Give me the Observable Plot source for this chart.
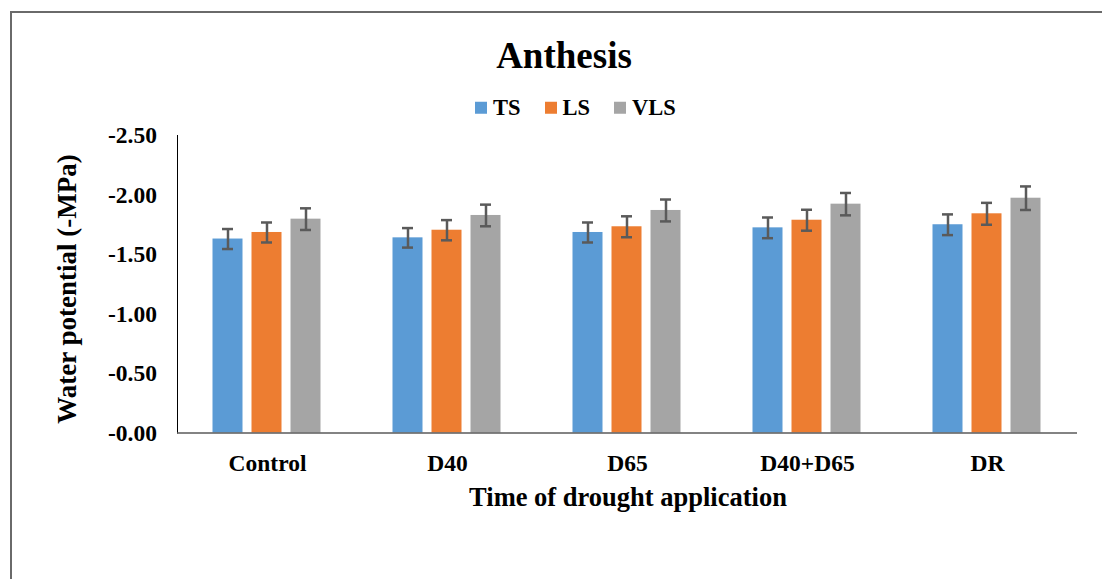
<!DOCTYPE html>
<html>
<head>
<meta charset="utf-8">
<script src="https://cdn.jsdelivr.net/npm/d3@7"></script>
<script src="https://cdn.jsdelivr.net/npm/@observablehq/plot@0.6"></script>
<style>
  html, body { margin: 0; padding: 0; background: #fff; overflow: hidden; }
  #wrap { position: relative; width: 1102px; height: 579px; overflow: hidden; font-family: "Liberation Serif", "Times New Roman", serif; font-weight: bold; color: #000; }
  #frame { position: absolute; left: 10px; top: 11px; width: 1300px; height: 800px; border-left: 2px solid #6a6a6a; border-top: 2px solid #6a6a6a; }
  #chart { position: absolute; left: 0; top: 0; }
  #chart svg text { font-family: "Liberation Serif", "Times New Roman", serif; font-weight: bold; font-size: 23.5px; fill: #000; }
  .lbl { position: absolute; line-height: 1; white-space: nowrap; transform: translate(-50%, -50%); }
  #title { left: 564px; top: 55px; font-size: 37px; }
  #legend { position: absolute; top: 108px; left: 475px; transform: translateY(-50%); display: flex; align-items: center; font-size: 22.5px; line-height: 1; }
  #legend .item { display: flex; align-items: center; margin-right: 24px; }
  #legend .sw { width: 12px; height: 12px; margin-right: 6px; }
  #xtitle { left: 628px; top: 497px; font-size: 26.5px; }
</style>
</head>
<body>
<div id="wrap">
  <div id="frame"></div>
  <div id="chart"></div>
  <div id="title" class="lbl">Anthesis</div>
  <div id="legend"></div>
  <div id="xtitle" class="lbl">Time of drought application</div>
</div>
<script>
const categories = ["Control", "D40", "D65", "D40+D65", "DR"];
const series = ["TS", "LS", "VLS"];
const colors = ["#5B9BD5", "#ED7D31", "#A5A5A5"];
const tsValues = [1.630, 1.640, 1.685, 1.724, 1.750];
const lsValues = [1.685, 1.704, 1.733, 1.788, 1.842];
const vlsValues = [1.797, 1.828, 1.870, 1.923, 1.973];
const tsErr = [0.084, 0.082, 0.084, 0.087, 0.087];
const lsErr = [0.084, 0.085, 0.088, 0.088, 0.092];
const vlsErr = [0.091, 0.091, 0.092, 0.094, 0.099];
const yTicks = [0, 0.5, 1.0, 1.5, 2.0, 2.5];
const yTitle = "Water potential (-MPa)";

const valueSets = [tsValues, lsValues, vlsValues];
const errSets = [tsErr, lsErr, vlsErr];
const data = [];
categories.forEach((c, i) => {
  series.forEach((s, j) => {
    data.push({category: c, series: s, value: valueSets[j][i], err: errSets[j][i]});
  });
});

const chart = Plot.plot({
  width: 1102,
  height: 579,
  marginLeft: 175.5,
  marginRight: 24,
  marginTop: 135,
  marginBottom: 146.5,
  fx: {domain: categories, padding: 0, label: null, axis: "bottom", tickSize: 0, tickPadding: 21},
  x: {domain: series, paddingInner: 0.225, paddingOuter: 0.869, axis: null},
  y: {domain: [0, 2.5], ticks: yTicks, tickFormat: d => "-" + d.toFixed(2), tickSize: 0, tickPadding: 20.5, label: null, line: true},
  color: {domain: series, range: colors},
  marks: [
    Plot.barY(data, {fx: "category", x: "series", y: "value", fill: "series"}),
    Plot.ruleX(data, {fx: "category", x: "series", y1: d => d.value - d.err, y2: d => d.value + d.err, stroke: "#5a5a5a", strokeWidth: 2.5}),
    Plot.tickY(data, {fx: "category", x: "series", y: d => d.value - d.err, stroke: "#5a5a5a", strokeWidth: 2.5, insetLeft: 9.5, insetRight: 9.5}),
    Plot.tickY(data, {fx: "category", x: "series", y: d => d.value + d.err, stroke: "#5a5a5a", strokeWidth: 2.5, insetLeft: 9.5, insetRight: 9.5}),
    Plot.ruleY([0], {stroke: "#5a5a5a", strokeWidth: 1.5})
  ]
});
document.getElementById("chart").appendChild(chart);

d3.select(chart).append("text")
  .attr("transform", "translate(76,289) rotate(-90)")
  .attr("text-anchor", "middle")
  .attr("style", "font-size:27px;font-weight:bold;font-family:'Liberation Serif','Times New Roman',serif;fill:#000")
  .text(yTitle);

const legend = document.getElementById("legend");
series.forEach((s, j) => {
  const item = document.createElement("div");
  item.className = "item";
  const sw = document.createElement("div");
  sw.className = "sw";
  sw.style.background = colors[j];
  const t = document.createElement("span");
  t.textContent = s;
  item.appendChild(sw);
  item.appendChild(t);
  legend.appendChild(item);
});
</script>
</body>
</html>
